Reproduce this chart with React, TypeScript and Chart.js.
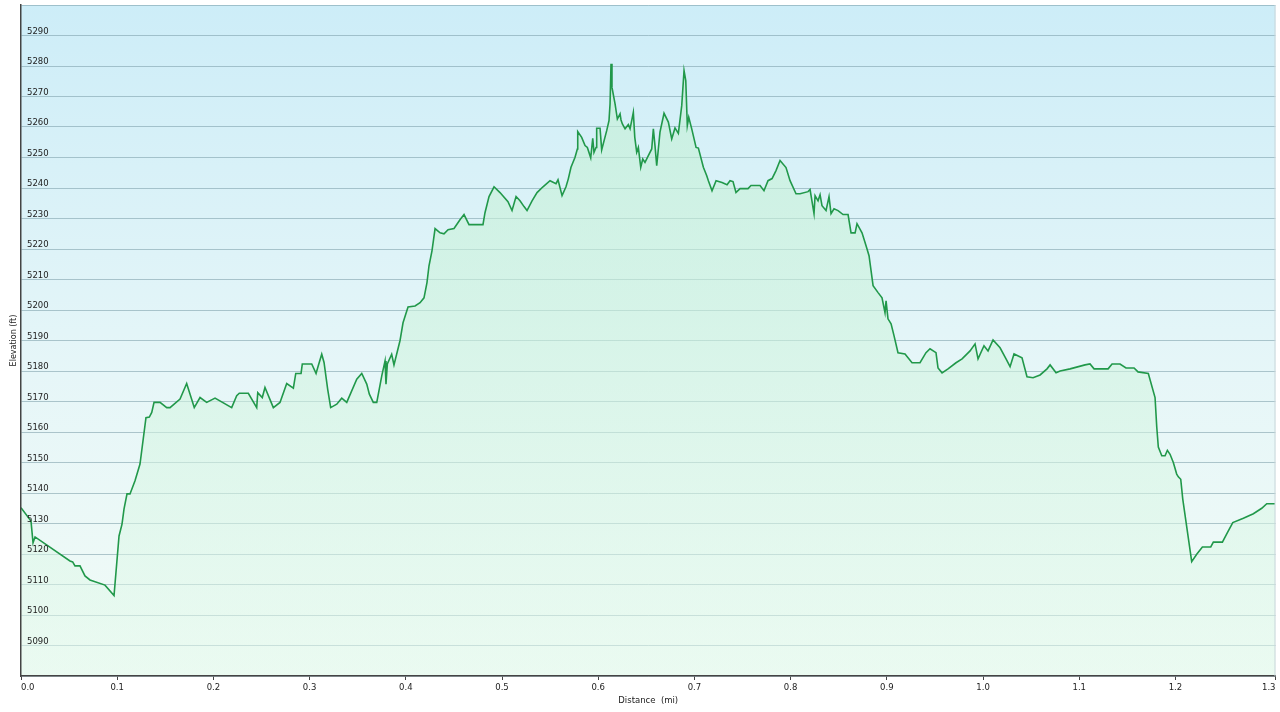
import React, { useEffect, useRef } from "react";
import { Chart, registerables } from "chart.js";

Chart.register(...registerables);

// Distance along the trail (mi)
const distances: number[] = [
  0, 0.0104, 0.0125, 0.0146, 0.0509, 0.0537, 0.0561, 0.0613, 0.0665, 0.0717,
  0.0873, 0.0967, 0.1019, 0.105, 0.1071, 0.1102, 0.1133, 0.1185, 0.1237, 0.1299,
  0.1334, 0.1359, 0.1383, 0.1445, 0.1515, 0.1549, 0.1653, 0.1722, 0.1801, 0.1861,
  0.193, 0.2017, 0.219, 0.2242, 0.2269, 0.2363, 0.245, 0.2461, 0.2508, 0.2536,
  0.2623, 0.2692, 0.2762, 0.2831, 0.2856, 0.2911, 0.2924, 0.3022, 0.3067, 0.309,
  0.3126, 0.315, 0.3188, 0.3219, 0.3282, 0.3334, 0.3386, 0.349, 0.3542, 0.3594,
  0.3621, 0.3662, 0.3698, 0.375, 0.3784, 0.3794, 0.3808, 0.3853, 0.3877, 0.3922,
  0.394, 0.3971, 0.4023, 0.4096, 0.4148, 0.4189, 0.422, 0.4241, 0.4272, 0.4304,
  0.4356, 0.4397, 0.4439, 0.4501, 0.4563, 0.4605, 0.4657, 0.4802, 0.4823, 0.4865,
  0.4917, 0.4979, 0.5062, 0.5104, 0.5146, 0.5187, 0.5229, 0.526, 0.5312, 0.5364,
  0.5426, 0.5499, 0.5561, 0.5582, 0.5624, 0.5665, 0.5689, 0.5717, 0.5759, 0.5783,
  0.5787, 0.5828, 0.5863, 0.5887, 0.5922, 0.5943, 0.5956, 0.5977, 0.5984, 0.6019,
  0.6036, 0.6088, 0.6112, 0.6123, 0.6133, 0.6143, 0.6175, 0.6199, 0.6227, 0.6237,
  0.6251, 0.6279, 0.6313, 0.6331, 0.6365, 0.638, 0.64, 0.6417, 0.6442, 0.6463,
  0.6486, 0.6521, 0.6556, 0.6573, 0.659, 0.6608, 0.6642, 0.6684, 0.6729, 0.6764,
  0.6798, 0.6833, 0.6868, 0.6892, 0.691, 0.6926, 0.6941, 0.6972, 0.7017, 0.7041,
  0.7093, 0.7128, 0.7145, 0.7183, 0.7225, 0.7287, 0.7339, 0.737, 0.7401, 0.7432,
  0.7474, 0.7557, 0.7588, 0.7682, 0.7723, 0.7765, 0.7807, 0.7848, 0.789, 0.7952,
  0.7994, 0.8056, 0.8098, 0.8181, 0.8202, 0.8243, 0.8254, 0.8285, 0.8306, 0.8326,
  0.8368, 0.8399, 0.842, 0.8451, 0.8493, 0.8545, 0.8597, 0.8628, 0.867, 0.869,
  0.8742, 0.8784, 0.8815, 0.8857, 0.8909, 0.895, 0.8981, 0.8992, 0.9012, 0.9044,
  0.9075, 0.9116, 0.9189, 0.9262, 0.9345, 0.9407, 0.9449, 0.9511, 0.9532, 0.9574,
  0.9636, 0.9719, 0.9782, 0.9865, 0.9917, 0.9948, 1.001, 1.0052, 1.0104, 1.0177,
  1.0239, 1.0281, 1.0322, 1.0405, 1.0457, 1.052, 1.0593, 1.0665, 1.0697, 1.0759,
  1.0801, 1.0905, 1.106, 1.1112, 1.1154, 1.13, 1.1341, 1.1424, 1.1486, 1.157,
  1.1611, 1.1718, 1.1788, 1.1806, 1.1822, 1.1858, 1.1892, 1.1916, 1.1944, 1.1978,
  1.2013, 1.203, 1.2055, 1.2076, 1.2169, 1.2221, 1.228, 1.2367, 1.2394, 1.2488,
  1.254, 1.2596, 1.2706, 1.281, 1.2897, 1.2949, 1.3035,
];

// Elevation (ft)
const elevations: number[] = [
  5135.2, 5130.8, 5123.7, 5125.6, 5117.7, 5117.4, 5116.1, 5116.1, 5112.8, 5111.5,
  5109.8, 5106.4, 5125.9, 5129.8, 5134.8, 5139.7, 5139.7, 5144.0, 5149.5, 5164.7,
  5164.9, 5166.4, 5169.7, 5169.7, 5168.0, 5168.0, 5170.8, 5175.9, 5168.0, 5171.3,
  5169.7, 5171.1, 5168.0, 5171.9, 5172.7, 5172.7, 5168.0, 5172.9, 5171.3, 5174.6,
  5168.0, 5169.7, 5175.9, 5174.4, 5179.2, 5179.2, 5182.3, 5182.3, 5179.2, 5181.7,
  5185.5, 5182.8, 5174.0, 5168.0, 5169.1, 5171.1, 5169.7, 5177.3, 5179.2, 5175.7,
  5172.4, 5169.7, 5169.7, 5178.4, 5183.3, 5175.7, 5182.3, 5185.5, 5182.0, 5187.7,
  5190.0, 5195.8, 5201.0, 5201.3, 5202.4, 5204.0, 5209.0, 5214.5, 5219.4, 5226.7,
  5225.3, 5225.0, 5226.3, 5226.7, 5229.6, 5231.3, 5228.0, 5228.0, 5231.9, 5237.2,
  5240.4, 5238.5, 5235.5, 5232.6, 5237.2, 5235.8, 5233.9, 5232.6, 5235.8, 5238.5,
  5240.4, 5242.4, 5241.4, 5242.7, 5237.5, 5240.4, 5243.0, 5246.8, 5250.1, 5252.8,
  5258.5, 5256.6, 5253.9, 5253.3, 5249.9, 5256.3, 5251.7, 5253.3, 5259.6, 5259.6,
  5252.5, 5258.8, 5262.1, 5267.6, 5280.7, 5273.0, 5267.6, 5262.6, 5264.3, 5262.3,
  5261.0, 5259.4, 5260.8, 5259.4, 5264.8, 5256.6, 5251.7, 5253.3, 5246.8, 5249.5,
  5248.4, 5250.6, 5252.8, 5259.4, 5253.9, 5247.3, 5258.3, 5264.5, 5261.6, 5256.1,
  5259.7, 5257.9, 5267.0, 5278.5, 5275.2, 5260.5, 5263.2, 5259.4, 5253.3, 5253.1,
  5246.8, 5244.0, 5242.4, 5239.1, 5242.4, 5241.8, 5241.1, 5242.4, 5242.1, 5238.5,
  5239.8, 5239.8, 5240.8, 5240.8, 5239.1, 5242.4, 5243.1, 5245.7, 5249.0, 5246.7,
  5242.4, 5238.1, 5238.1, 5238.8, 5239.5, 5231.6, 5237.5, 5235.8, 5237.8, 5234.2,
  5232.6, 5237.2, 5231.6, 5233.2, 5232.6, 5231.3, 5231.3, 5225.3, 5225.3, 5228.3,
  5225.3, 5221.1, 5217.8, 5208.0, 5205.7, 5204.0, 5199.1, 5203.0, 5197.1, 5195.5,
  5191.5, 5186.0, 5185.6, 5182.7, 5182.7, 5186.0, 5187.3, 5186.0, 5181.0, 5179.4,
  5180.7, 5182.7, 5184.0, 5186.6, 5188.9, 5184.0, 5188.3, 5186.6, 5190.2, 5187.6,
  5184.0, 5181.4, 5185.6, 5184.3, 5178.1, 5177.8, 5178.7, 5180.7, 5182.0, 5179.4,
  5180.0, 5180.7, 5182.0, 5182.3, 5180.7, 5180.7, 5182.3, 5182.3, 5181.0, 5181.0,
  5179.7, 5179.2, 5171.3, 5161.5, 5155.1, 5152.2, 5152.2, 5154.0, 5152.7, 5150.0,
  5146.2, 5145.3, 5144.5, 5138.0, 5117.5, 5119.9, 5122.3, 5122.3, 5123.9, 5123.9,
  5127.0, 5130.3, 5131.7, 5133.2, 5135.0, 5136.5, 5136.5,
];

const X_MIN = 0;
const X_MAX = 1.304;
const X_STEP = 0.1;
const Y_MIN = 5080;
const Y_MAX = 5300;
const Y_STEP = 10;
const HIDDEN_Y_LABELS: number[] = [5080, 5300];

const X_TITLE = "Distance  (mi)";
const Y_TITLE = "Elevation (ft)";

const FONT = "'DejaVu Sans', Verdana, sans-serif";

const backgroundPlugin = {
  id: "plotBackground",
  beforeDraw(chart: any) {
    const { ctx, chartArea } = chart;
    if (!chartArea) return;
    const { left, top, right, bottom } = chartArea;
    ctx.save();
    const g = ctx.createLinearGradient(0, top, 0, bottom);
    g.addColorStop(0, "#cdedf8");
    g.addColorStop(0.55, "#e6f6f8");
    g.addColorStop(1, "#f1fbf6");
    ctx.fillStyle = g;
    ctx.fillRect(left, top, right - left, bottom - top);
    ctx.restore();
  },
  afterDraw(chart: any) {
    const { ctx, chartArea } = chart;
    if (!chartArea) return;
    const { top, right, bottom } = chartArea;
    ctx.save();
    ctx.strokeStyle = "#c9d6da";
    ctx.lineWidth = 1;
    ctx.beginPath();
    ctx.moveTo(right - 0.5, top);
    ctx.lineTo(right - 0.5, bottom);
    ctx.stroke();
    ctx.restore();
  },
};

export default function App() {
  const canvasRef = useRef<HTMLCanvasElement | null>(null);

  useEffect(() => {
    const canvas = canvasRef.current;
    if (!canvas) return;
    const points = distances.map((d, i) => ({ x: d, y: elevations[i] }));

    const chart = new Chart(canvas, {
      type: "line",
      data: {
        datasets: [
          {
            data: points,
            borderColor: "#21984a",
            borderWidth: 1.6,
            pointRadius: 0,
            tension: 0,
            fill: "start",
            backgroundColor: (c: any) => {
              const area = c.chart.chartArea;
              if (!area) return "rgba(200,240,215,0.6)";
              const g = c.chart.ctx.createLinearGradient(0, area.top, 0, area.bottom);
              g.addColorStop(0, "rgba(190,238,208,0.62)");
              g.addColorStop(0.45, "rgba(205,243,220,0.58)");
              g.addColorStop(1, "rgba(228,250,236,0.5)");
              return g;
            },
          },
        ],
      },
      options: {
        responsive: false,
        animation: false,
        layout: { padding: { left: 0, right: 4.5, top: 5, bottom: 4 } },
        plugins: {
          legend: { display: false },
          tooltip: { enabled: false },
        },
        scales: {
          x: {
            type: "linear",
            min: X_MIN,
            max: X_MAX,
            afterFit: (scale: any) => {
              scale.height = 32;
            },
            grid: {
              drawOnChartArea: false,
              drawTicks: true,
              tickLength: 4,
              color: "#444",
            },
            border: { display: true, color: "#444", width: 1.5, z: 1 },
            ticks: {
              stepSize: X_STEP,
              align: "inner",
              maxRotation: 0,
              autoSkip: false,
              padding: 3,
              color: "#222",
              font: { family: FONT, size: 8.5 },
              callback: (v: any) => Number(v).toFixed(1),
            },
            title: {
              display: true,
              text: X_TITLE,
              color: "#222",
              font: { family: FONT, size: 8.5 },
              padding: { top: 4, bottom: 2 },
            },
          },
          y: {
            type: "linear",
            min: Y_MIN,
            max: Y_MAX,
            afterFit: (scale: any) => {
              scale.width = 21;
              scale.paddingTop = 0;
              scale.paddingBottom = 0;
            },
            grid: {
              drawTicks: false,
              color: "rgba(120,155,165,0.55)",
              lineWidth: 1,
            },
            border: { display: true, color: "#444", width: 1.5, z: 1 },
            ticks: {
              z: 1,
              stepSize: Y_STEP,
              mirror: true,
              padding: 6,
              labelOffset: -4,
              color: "#222",
              font: { family: FONT, size: 8.5 },
              callback: (v: any) => (HIDDEN_Y_LABELS.includes(Number(v)) ? "" : String(v)),
            },
            title: {
              display: true,
              text: Y_TITLE,
              color: "#222",
              font: { family: FONT, size: 8 },
              padding: { top: 9, bottom: 0 },
            },
          },
        },
      },
      plugins: [backgroundPlugin],
    } as any);

    return () => chart.destroy();
  }, []);

  return (
    <div style={{ position: "fixed", left: 0, top: 0, width: 1280, height: 712, background: "#fff" }}>
      <canvas ref={canvasRef} width={1280} height={712} style={{ display: "block" }} />
    </div>
  );
}
